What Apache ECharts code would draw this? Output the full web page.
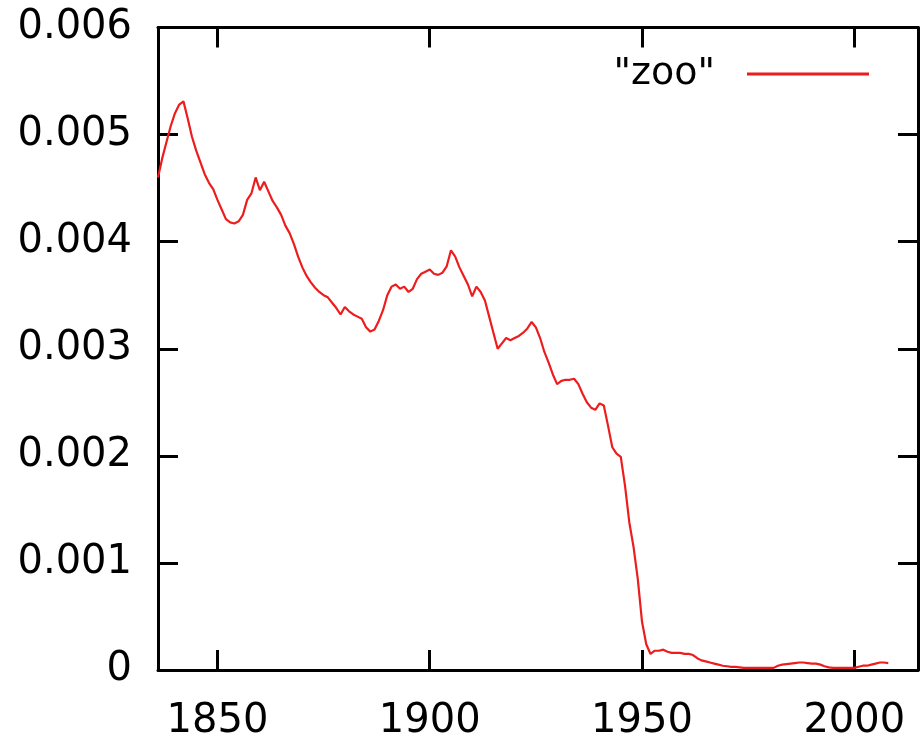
<!DOCTYPE html>
<html><head><meta charset="utf-8">
<script src="https://cdn.jsdelivr.net/npm/echarts@6/dist/echarts.min.js"></script>
<style>html,body{margin:0;padding:0;background:#fff}#c{width:920px;height:737px}</style>
</head><body><div id="c"></div>
<script>
const seriesName = '"zoo"';
const years = [
1836,1837,1838,1839,
1840,1841,1842,1843,1844,1845,1846,1847,1848,1849,
1850,1851,1852,1853,1854,1855,1856,1857,1858,1859,
1860,1861,1862,1863,1864,1865,1866,1867,1868,1869,
1870,1871,1872,1873,1874,1875,1876,1877,1878,1879,
1880,1881,1882,1883,1884,1885,1886,1887,1888,1889,
1890,1891,1892,1893,1894,1895,1896,1897,1898,1899,
1900,1901,1902,1903,1904,1905,1906,1907,1908,1909,
1910,1911,1912,1913,1914,1915,1916,1917,1918,1919,
1920,1921,1922,1923,1924,1925,1926,1927,1928,1929,
1930,1931,1932,1933,1934,1935,1936,1937,1938,1939,
1940,1941,1942,1943,1944,1945,1946,1947,1948,1949,
1950,1951,1952,1953,1954,1955,1956,1957,1958,1959,
1960,1961,1962,1963,1964,1965,1966,1967,1968,1969,
1970,1971,1972,1973,1974,1975,1976,1977,1978,1979,
1980,1981,1982,1983,1984,1985,1986,1987,1988,1989,
1990,1991,1992,1993,1994,1995,1996,1997,1998,1999,
2000,2001,2002,2003,2004,2005,2006,2007,2008
];
const values = [
4.60e-3,4.78e-3,4.93e-3,5.08e-3,
5.20e-3,5.28e-3,5.31e-3,5.15e-3,4.98e-3,4.85e-3,4.74e-3,4.63e-3,4.55e-3,4.49e-3,
4.39e-3,4.30e-3,4.21e-3,4.18e-3,4.17e-3,4.19e-3,4.25e-3,4.39e-3,4.45e-3,4.60e-3,
4.48e-3,4.56e-3,4.47e-3,4.38e-3,4.32e-3,4.25e-3,4.15e-3,4.08e-3,3.98e-3,3.86e-3,
3.76e-3,3.68e-3,3.62e-3,3.57e-3,3.53e-3,3.50e-3,3.48e-3,3.43e-3,3.38e-3,3.32e-3,
3.39e-3,3.35e-3,3.32e-3,3.30e-3,3.28e-3,3.20e-3,3.16e-3,3.18e-3,3.26e-3,3.36e-3,
3.50e-3,3.58e-3,3.60e-3,3.56e-3,3.58e-3,3.53e-3,3.56e-3,3.65e-3,3.70e-3,3.72e-3,
3.74e-3,3.70e-3,3.69e-3,3.71e-3,3.77e-3,3.92e-3,3.86e-3,3.76e-3,3.68e-3,3.60e-3,
3.49e-3,3.58e-3,3.53e-3,3.45e-3,3.30e-3,3.15e-3,3.00e-3,3.05e-3,3.10e-3,3.08e-3,
3.10e-3,3.12e-3,3.15e-3,3.19e-3,3.25e-3,3.20e-3,3.10e-3,2.97e-3,2.87e-3,2.76e-3,
2.67e-3,2.70e-3,2.71e-3,2.71e-3,2.72e-3,2.67e-3,2.58e-3,2.50e-3,2.45e-3,2.43e-3,
2.49e-3,2.47e-3,2.28e-3,2.08e-3,2.02e-3,1.99e-3,1.72e-3,1.38e-3,1.15e-3,0.85e-3,
0.45e-3,0.24e-3,0.15e-3,0.18e-3,0.18e-3,0.19e-3,0.17e-3,0.16e-3,0.16e-3,0.16e-3,
0.15e-3,0.15e-3,0.14e-3,0.11e-3,0.09e-3,0.08e-3,0.07e-3,0.06e-3,0.05e-3,0.04e-3,
0.035e-3,0.03e-3,0.03e-3,0.025e-3,0.02e-3,0.02e-3,0.02e-3,0.02e-3,0.02e-3,0.02e-3,
0.02e-3,0.02e-3,0.04e-3,0.05e-3,0.055e-3,0.06e-3,0.065e-3,0.07e-3,0.07e-3,0.065e-3,
0.06e-3,0.06e-3,0.05e-3,0.035e-3,0.025e-3,0.02e-3,0.02e-3,0.02e-3,0.02e-3,0.02e-3,
0.02e-3,0.03e-3,0.04e-3,0.04e-3,0.05e-3,0.06e-3,0.07e-3,0.07e-3,0.065e-3
];
const xTickValues = [1850, 1900, 1950, 2000];
const xMin = 1836, xMax = 2015;
const yMin = 0, yMax = 0.006, yStep = 0.001;

const FONT = 'DejaVu Sans';
const lineColor = '#ee1d1d';
const axisLine = { show: true, onZero: false, lineStyle: { color: '#000', width: 3 } };
const tick = { show: true, inside: true, length: 20, lineStyle: { color: '#000', width: 3 } };

const chart = echarts.init(document.getElementById('c'), null, { renderer: 'canvas' });
chart.setOption({
  animation: false,
  backgroundColor: '#fff',
  grid: { left: 158, right: 2, top: 27.5, bottom: 67, containLabel: false, outerBoundsMode: 'none' },
  legend: {
    data: [seriesName],
    right: 51, top: 55,
    align: 'right',
    icon: 'rect',
    itemWidth: 122, itemHeight: 3,
    padding: 0,
    textStyle: { fontFamily: FONT, fontSize: 38, color: '#000', padding: [0, 27, 0, 0] }
  },
  xAxis: [
    { type: 'value', min: xMin, max: xMax, position: 'bottom',
      axisLine: axisLine, splitLine: { show: false },
      axisTick: Object.assign({ customValues: xTickValues }, tick),
      axisLabel: { customValues: xTickValues, margin: 32, color: '#000', fontFamily: FONT, fontSize: 40,
        formatter: v => String(v) } },
    { type: 'value', min: xMin, max: xMax, position: 'top',
      axisLine: axisLine, splitLine: { show: false },
      axisTick: Object.assign({ customValues: xTickValues }, tick),
      axisLabel: { show: false } }
  ],
  yAxis: [
    { type: 'value', min: yMin, max: yMax, interval: yStep, position: 'left',
      axisLine: axisLine, splitLine: { show: false }, axisTick: tick,
      axisLabel: { margin: 26, color: '#000', fontFamily: FONT, fontSize: 40, padding: [16, 0, 0, 0],
        formatter: v => (v === 0 ? '0' : v.toFixed(3)) } },
    { type: 'value', min: yMin, max: yMax, interval: yStep, position: 'right',
      axisLine: axisLine, splitLine: { show: false }, axisTick: tick,
      axisLabel: { show: false } }
  ],
  series: [{
    name: seriesName,
    type: 'line',
    data: years.map((y, i) => [y, values[i]]),
    showSymbol: false, symbol: 'none',
    lineStyle: { color: lineColor, width: 2.2 },
    itemStyle: { color: lineColor },
    z: 1
  }]
});
</script></body></html>
